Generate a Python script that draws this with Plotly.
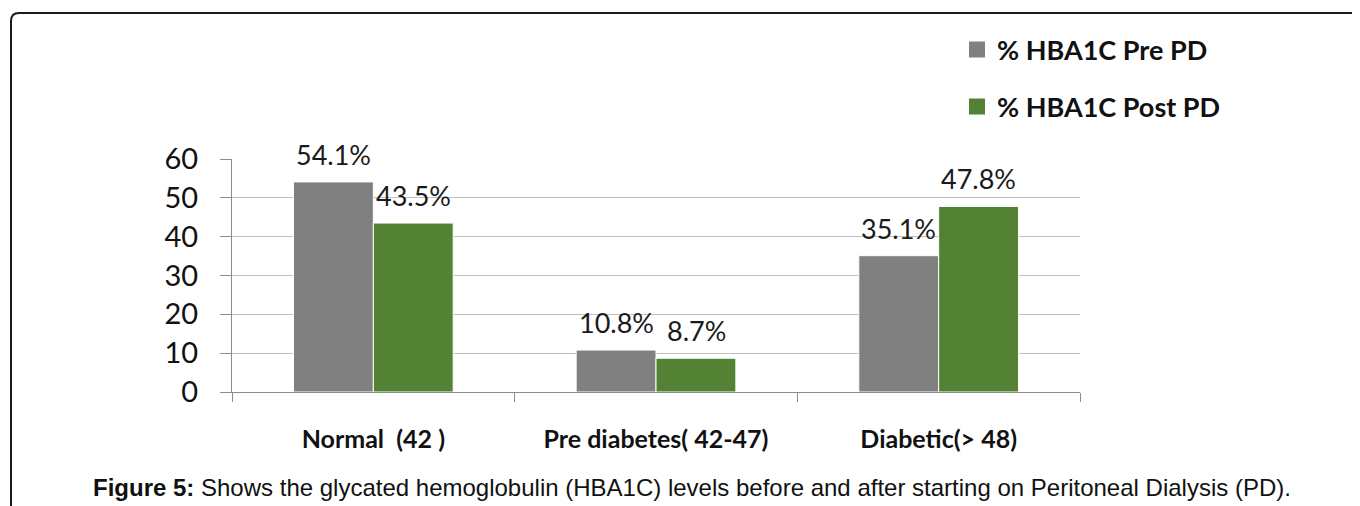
import plotly.graph_objects as go

categories = ["Normal  (42 )", "Pre diabetes( 42-47)", "Diabetic(> 48)"]
pre_pd = [54.1, 10.8, 35.1]
post_pd = [43.5, 8.7, 47.8]
series_names = ["% HBA1C Pre PD", "% HBA1C Post PD"]
y_ticks = [0, 10, 20, 30, 40, 50, 60]
caption_bold = "Figure 5:"
caption_text = " Shows the glycated hemoglobulin (HBA1C) levels before and after starting on Peritoneal Dialysis (PD)."

OFF = 8  # page body margin
W, H = 1360 - OFF, 506 - OFF
# plot area in page pixel coords
L, R, T, B = 232, 1080, 159, 392
pw, ph = R - L, B - T

def px(x):
    return (x - L) / pw

def py(y):
    return (B - y) / ph

GRAY = "#808080"
GREEN = "#548235"
NUM_FONT = "Lato, Carlito, Calibri, sans-serif"

fig = go.Figure()
fig.add_trace(go.Bar(x=categories, y=pre_pd, name=series_names[0], showlegend=False,
                     marker=dict(color=GRAY, line=dict(color="white", width=1))))
fig.add_trace(go.Bar(x=categories, y=post_pd, name=series_names[1], showlegend=False,
                     marker=dict(color=GREEN, line=dict(color="white", width=1))))
# legend entries (square swatches)
for name, col, lg in ((series_names[0], GRAY, "legend"), (series_names[1], GREEN, "legend2")):
    fig.add_trace(go.Scatter(x=[None], y=[None], mode="markers", name=name, legend=lg, showlegend=True,
                             marker=dict(symbol="square", size=16, color=col)))

annotations = []
for vals, shift in ((pre_pd, -40), (post_pd, 40)):
    for c, v in zip(categories, vals):
        annotations.append(dict(x=c, y=v, xref="x", yref="y", text=f"{v}%", showarrow=False,
                                xshift=shift, yshift=9, yanchor="bottom",
                                font=dict(family=NUM_FONT, size=27, color="#1a1a1a")))

annotations.append(dict(x=px(692), y=py(487), xref="paper", yref="paper", xanchor="center", yanchor="middle",
                        text=f"<b>{caption_bold}</b>{caption_text}", showarrow=False,
                        font=dict(family="Liberation Sans, Arial, sans-serif", size=24, color="#111")))

shapes = [dict(type="path", xref="paper", yref="paper",
               path=f"M {px(11)},{py(520)} L {px(11)},{py(21)} Q {px(11)},{py(13)} {px(19)},{py(13)} L {px(1370)},{py(13)}",
               line=dict(color="#1a1a1a", width=2))]

fig.update_layout(
    width=W, height=H,
    margin=dict(l=L - OFF, r=W - (R - OFF), t=T - OFF, b=H - (B - OFF), autoexpand=False),
    paper_bgcolor="white", plot_bgcolor="white",
    barmode="group", bargap=0.435, bargroupgap=0,
    showlegend=True,
    legend=dict(x=px(957), y=py(50), xanchor="left", yanchor="middle", bgcolor="rgba(0,0,0,0)",
                font=dict(family=NUM_FONT, size=27, color="#111", weight="bold"), itemwidth=30),
    legend2=dict(x=px(957), y=py(107), xanchor="left", yanchor="middle", bgcolor="rgba(0,0,0,0)",
                 font=dict(family=NUM_FONT, size=27, color="#111", weight="bold"), itemwidth=30),
    annotations=annotations, shapes=shapes,
    xaxis=dict(showline=True, linecolor="#8c8c8c", linewidth=1, ticks="outside", tickson="boundaries",
               ticklen=9, tickcolor="#8c8c8c", showgrid=False,
               tickfont=dict(family=NUM_FONT, size=25, color="#111", weight="bold"), ticklabelstandoff=25),
    yaxis=dict(range=[0, 60], tickvals=y_ticks, showgrid=True, gridcolor="#bfbfbf", gridwidth=1,
               showline=True, linecolor="#8c8c8c", ticks="outside", ticklen=11, tickcolor="#8c8c8c",
               tickfont=dict(family=NUM_FONT, size=29, color="#111"), zeroline=False, ticklabelstandoff=16),
)
fig.write_html("out.html")
